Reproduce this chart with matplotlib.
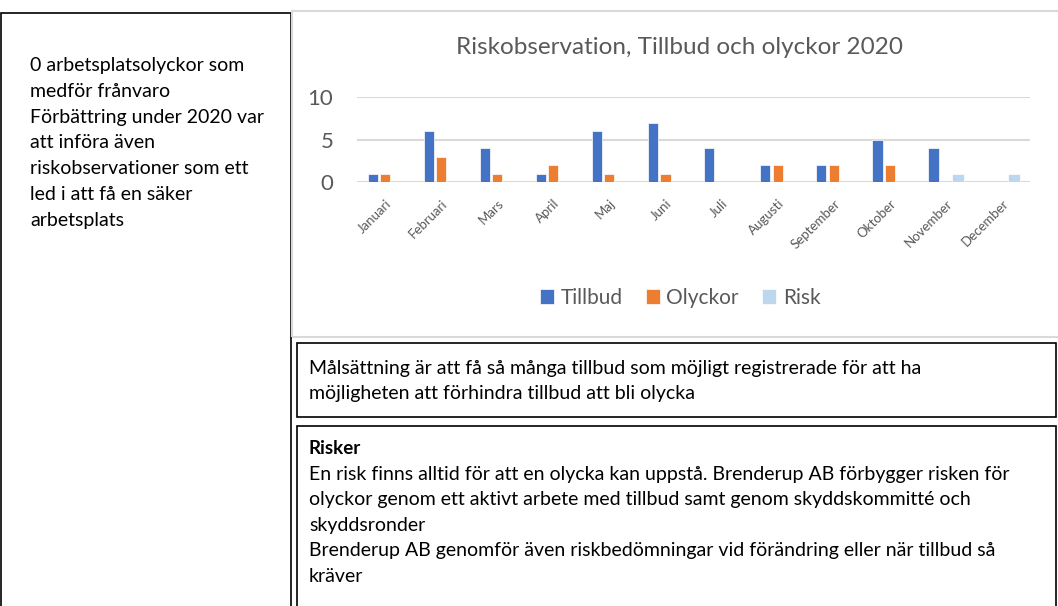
import matplotlib
matplotlib.use("Agg")
import matplotlib.pyplot as plt
from matplotlib.patches import Rectangle
import numpy as np

plt.rcParams['font.family'] = ['Lato', 'DejaVu Sans']

# Data
months = ["Januari", "Februari", "Mars", "April", "Maj", "Juni", "Juli",
          "Augusti", "September", "Oktober", "November", "December"]
tillbud = [1, 6, 4, 1, 6, 7, 4, 2, 2, 5, 4, 0]
olyckor = [1, 3, 1, 2, 1, 1, 0, 2, 2, 2, 0, 0]
risk = [0, 0, 0, 0, 0, 0, 0, 0, 0, 0, 1, 1]
y_ticks = [0, 5, 10]

title = "Riskobservation, Tillbud och olyckor 2020"
left_text = ("0 arbetsplatsolyckor som\nmedför frånvaro\nFörbättring under 2020 var\n"
             "att införa även\nriskobservationer som ett\nled i att få en säker\narbetsplats")
goal_text = ("Målsättning är att få så många tillbud som möjligt registrerade för att ha\n"
             "möjligheten att förhindra tillbud att bli olycka")
risk_head = "Risker"
risk_text = ("En risk finns alltid för att en olycka kan uppstå. Brenderup AB förbygger risken för\n"
             "olyckor genom ett aktivt arbete med tillbud samt genom skyddskommitté och\n"
             "skyddsronder\n"
             "Brenderup AB genomför även riskbedömningar vid förändring eller när tillbud så\n"
             "kräver")

C_TILL = "#4472C4"
C_OLY = "#ED7D31"
C_RISK = "#BDD7EE"
GRAY = "#595959"

W, H = 1058, 606
fig = plt.figure(figsize=(W / 100, H / 100), dpi=100)


def fx(x):
    return x / W


def fy(y):
    return 1 - y / H


def box(x0, y0, x1, y1, color="black", lw=1.2):
    fig.patches.append(Rectangle((fx(x0), fy(y1)), fx(x1) - fx(x0), fy(y0) - fy(y1),
                                 transform=fig.transFigure, fill=False,
                                 edgecolor=color, linewidth=lw))


# frames
box(1, 13, 291, 620)
box(292, 11, 1070, 337, color="#D9D9D9", lw=1.5)
box(297, 343, 1056, 417)
box(297, 426, 1056, 620)

# chart axes
ax = fig.add_axes([fx(357), fy(182), fx(1030) - fx(357), fy(97) - fy(182)])
x = np.arange(len(months))
bw = 0.18
off = 0.22
ax.bar(x - off, tillbud, bw, color=C_TILL, edgecolor="white", linewidth=0.5, zorder=3, label="Tillbud")
ax.bar(x, olyckor, bw, color=C_OLY, edgecolor="white", linewidth=0.5, zorder=3, label="Olyckor")
ax.bar(x + off, risk, bw + 0.03, color=C_RISK, edgecolor="white", linewidth=0.5, zorder=3, label="Risk")
ax.set_xlim(-0.5, len(months) - 0.5)
ax.set_ylim(0, 10)
ax.set_yticks(y_ticks)
ax.yaxis.grid(True, color="#D9D9D9", linewidth=1.5, zorder=0)
ax.set_axisbelow(True)
for s in ax.spines.values():
    s.set_visible(False)
ax.tick_params(axis="both", length=0)
ax.tick_params(axis="y", labelsize=16, labelcolor=GRAY, pad=17)
ax.set_xticks(x)
ax.set_xticklabels(months, rotation=45, ha="right", rotation_mode="anchor",
                   fontsize=9.5, color=GRAY)
ax.tick_params(axis="x", pad=11)

fig.text(fx(680), fy(47), title, ha="center", va="center", fontsize=17.5, color=GRAY)

h, l = ax.get_legend_handles_labels()
fig.legend(h, l, loc="center", bbox_to_anchor=(fx(680), fy(298)), ncol=3, frameon=False,
           fontsize=15, labelcolor=GRAY, handlelength=0.7, handleheight=0.7,
           handletextpad=0.3, columnspacing=1.1)

# text boxes
fig.text(fx(30), fy(57), left_text, ha="left", va="top", fontsize=14,
         linespacing=1.63, color="black")
fig.text(fx(309), fy(360), goal_text, ha="left", va="top", fontsize=14,
         linespacing=1.6, color="black")
fig.text(fx(309), fy(440), risk_head, ha="left", va="top", fontsize=13.5,
         fontweight="bold", color="black")
fig.text(fx(309), fy(466), risk_text, ha="left", va="top", fontsize=14,
         linespacing=1.6, color="black")

fig.savefig("out.png", dpi=100)
